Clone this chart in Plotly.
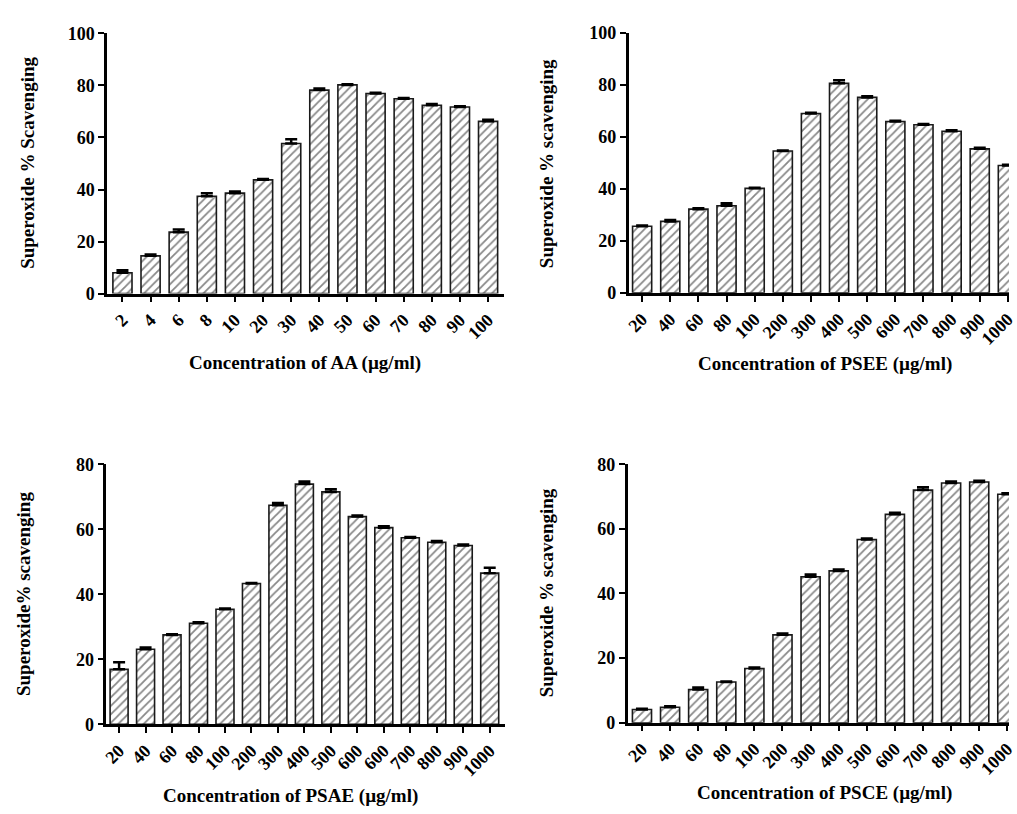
import plotly.graph_objects as go
import numpy as np

W, H = 1017, 814

# ---------------- data ----------------
aa_labels = ["2", "4", "6", "8", "10", "20", "30", "40", "50", "60", "70", "80", "90", "100"]
aa_values = [8.0, 14.5, 23.6, 37.4, 38.6, 43.7, 57.7, 78.2, 80.2, 76.9, 74.9, 72.4, 71.7, 66.2]
aa_errors = [1.0, 0.5, 1.0, 1.2, 0.6, 0.3, 1.6, 0.6, 0.3, 0.3, 0.3, 0.5, 0.3, 0.6]

psee_labels = ["20", "40", "60", "80", "100", "200", "300", "400", "500", "600", "700", "800", "900", "1000"]
psee_values = [25.6, 27.5, 32.2, 33.5, 40.2, 54.6, 69.0, 80.6, 75.2, 65.9, 64.7, 62.2, 55.4, 49.0]
psee_errors = [0.3, 0.5, 0.4, 1.0, 0.2, 0.2, 0.3, 1.2, 0.4, 0.3, 0.3, 0.4, 0.4, 0.3]

psae_labels = ["20", "40", "60", "80", "100", "200", "300", "400", "500", "600", "600", "700", "800", "900", "1000"]
psae_values = [16.9, 23.1, 27.5, 31.1, 35.4, 43.3, 67.4, 73.9, 71.5, 63.9, 60.5, 57.4, 56.0, 55.0, 46.5]
psae_errors = [2.2, 0.5, 0.2, 0.3, 0.2, 0.2, 0.7, 0.8, 0.8, 0.3, 0.4, 0.2, 0.4, 0.3, 1.7]

psce_labels = ["20", "40", "60", "80", "100", "200", "300", "400", "500", "600", "700", "800", "900", "1000"]
psce_values = [4.1, 4.8, 10.3, 12.6, 16.8, 27.2, 45.2, 47.0, 56.7, 64.5, 72.0, 74.2, 74.5, 70.7]
psce_errors = [0.2, 0.3, 0.6, 0.2, 0.3, 0.4, 0.7, 0.4, 0.3, 0.5, 0.9, 0.5, 0.4, 0.3]

panels = [
    dict(labels=aa_labels, values=aa_values, errors=aa_errors,
         ytitle="Superoxide % Scavenging", xtitle="Concentration of AA (\u00b5g/ml)",
         xdom=(103.3, 505), ydom=(24, 290.7), xr=(-0.55, 13.55), yr=(0, 100), yt=[0, 20, 40, 60, 80, 100],
         ytpos=(22, 157), xtpos=(304, 362)),
    dict(labels=psee_labels, values=psee_values, errors=psee_errors,
         ytitle="Superoxide % scavenging", xtitle="Concentration of PSEE (\u00b5g/ml)",
         xdom=(631.7, 1017), ydom=(23.5, 290), xr=(-0.48, 13.04), yr=(0, 100), yt=[0, 20, 40, 60, 80, 100],
         ytpos=(548, 157), xtpos=(831, 363)),
    dict(labels=psae_labels, values=psae_values, errors=psae_errors,
         ytitle="Superoxide% scavenging", xtitle="Concentration of PSAE (\u00b5g/ml)",
         xdom=(102.7, 506), ydom=(465.7, 732.3), xr=(-0.48, 14.56), yr=(0, 80), yt=[0, 20, 40, 60, 80],
         ytpos=(19, 599), xtpos=(289, 806)),
    dict(labels=psce_labels, values=psce_values, errors=psce_errors,
         ytitle="Superoxide % scavenging", xtitle="Concentration of PSCE (\u00b5g/ml)",
         xdom=(630.7, 1017), ydom=(465.7, 730.7), xr=(-0.51, 13.06), yr=(0, 80), yt=[0, 20, 40, 60, 80],
         ytpos=(548, 597), xtpos=(830, 803)),
]

FONT = "Liberation Serif, Times New Roman, serif"


def px_x(p):
    return min(max(p / W, 0), 1)


def px_y(p):
    return min(max(1 - p / H, 0), 1)


fig = go.Figure()
layout = dict(
    width=W, height=H, margin=dict(l=0, r=0, t=0, b=0),
    paper_bgcolor="white", plot_bgcolor="white", showlegend=False,
    bargap=0.3,
    annotations=[],
)

for i, p in enumerate(panels, start=1):
    sfx = "" if i == 1 else str(i)
    n = len(p["labels"])
    xpos = np.arange(n)
    fig.add_trace(go.Bar(
        x=xpos, y=p["values"], width=0.68,
        xaxis="x" + sfx, yaxis="y" + sfx,
        marker=dict(color="white", line=dict(color="#1a1a1a", width=1.6),
                    pattern=dict(shape="/", fgcolor="#111111", bgcolor="white", size=6, solidity=0.3)),
        error_y=dict(type="data", array=p["errors"], arrayminus=[0] * n, symmetric=False,
                     color="black", thickness=2.5, width=6),
    ))
    layout["xaxis" + sfx] = dict(
        domain=[px_x(p["xdom"][0]), px_x(p["xdom"][1])], anchor="y" + sfx,
        range=list(p["xr"]), tickmode="array", tickvals=list(xpos), ticktext=p["labels"],
        tickangle=-45, showline=True, linecolor="black", linewidth=2.5,
        ticks="outside", ticklen=6, tickwidth=2, tickcolor="black",
        showgrid=False, zeroline=False, ticklabeloverflow="allow",
        tickfont=dict(family=FONT, size=18, color="black", weight="bold"),
    )
    layout["yaxis" + sfx] = dict(
        domain=[px_y(p["ydom"][1]), px_y(p["ydom"][0])], anchor="x" + sfx,
        range=list(p["yr"]), tickmode="array", tickvals=p["yt"],
        showline=True, linecolor="black", linewidth=2.5,
        ticks="outside", ticklen=6, tickwidth=2, tickcolor="black",
        showgrid=False, zeroline=False,
        tickfont=dict(family=FONT, size=18, color="black", weight="bold"),
    )
    layout["annotations"].append(dict(
        text=p["ytitle"], x=px_x(p["ytpos"][0]), y=px_y(p["ytpos"][1]),
        xref="paper", yref="paper", showarrow=False, textangle=-90,
        xanchor="center", yanchor="middle",
        font=dict(family=FONT, size=19, color="black", weight="bold"),
    ))
    layout["annotations"].append(dict(
        text=p["xtitle"], x=px_x(p["xtpos"][0]), y=px_y(p["xtpos"][1]),
        xref="paper", yref="paper", showarrow=False,
        xanchor="center", yanchor="middle",
        font=dict(family=FONT, size=19, color="black", weight="bold"),
    ))

fig.update_layout(**layout)
fig.write_html("out.html")
